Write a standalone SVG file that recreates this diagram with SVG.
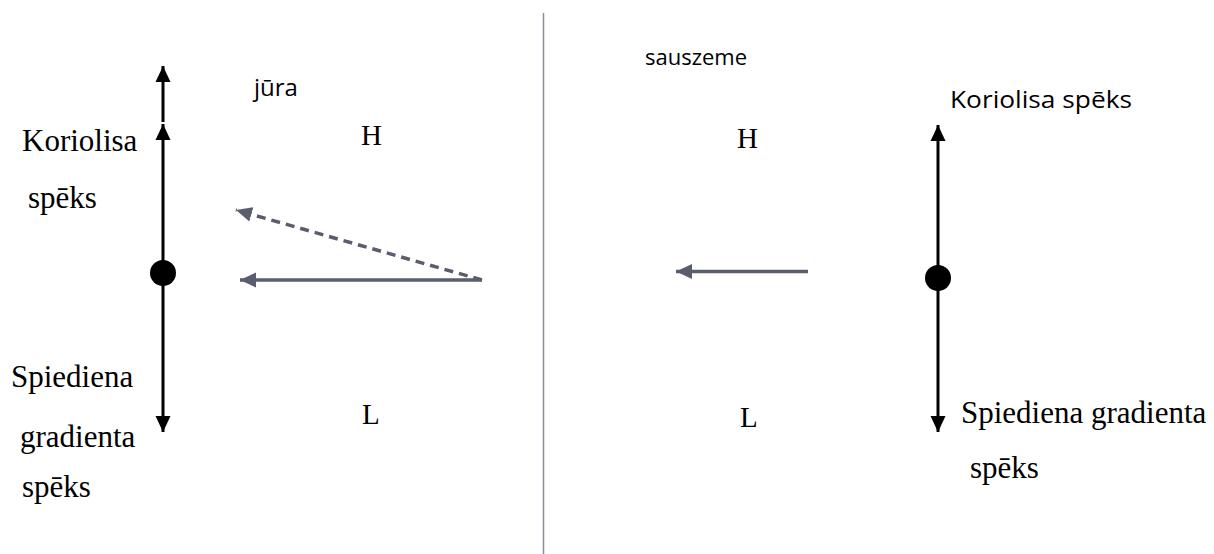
<svg xmlns="http://www.w3.org/2000/svg" width="1214" height="554" viewBox="0 0 1214 554">
<style>
.serif{font-family:"Liberation Serif","Times New Roman",serif;font-size:31px;fill:#000}
.serif.hl{font-size:29px}
.sans{font-family:"Open Sans","Liberation Sans",sans-serif;font-size:22px;fill:#000}
.sans.big{font-size:24px}
.blk{stroke:#000;stroke-width:3;fill:none}
.gry{stroke:#5a5d6c;stroke-width:3.5;fill:none}
</style>
<defs>
<marker id="ab" markerUnits="userSpaceOnUse" markerWidth="16" markerHeight="16" viewBox="0 0 16 16" refX="16" refY="8" orient="auto"><path d="M0,0.5 L16,8 L0,15.5 Z" fill="#000"/></marker>
<marker id="ag" markerUnits="userSpaceOnUse" markerWidth="16" markerHeight="16" viewBox="0 0 16 16" refX="16" refY="8" orient="auto"><path d="M0,0.5 L16,8 L0,15.5 Z" fill="#5a5d6c"/></marker>
</defs>
<rect width="1214" height="554" fill="#fff"/>
<g id="divider"><line x1="543.5" y1="13" x2="543.5" y2="554" stroke="#8a8c98" stroke-width="1.5"/></g>
<g id="connectors">
<path class="blk" d="M163,122 V66" marker-end="url(#ab)"/>
<path class="blk" d="M163,273 V124" marker-end="url(#ab)"/>
<path class="blk" d="M163,273 V432" marker-end="url(#ab)"/>
<path class="blk" d="M938,278 V125" marker-end="url(#ab)"/>
<path class="blk" d="M938,278 V432" marker-end="url(#ab)"/>
<path class="gry" d="M482,280 L240,280" marker-end="url(#ag)"/>
<path class="gry" d="M482,280 L236,210" stroke-dasharray="9,6" stroke-width="3" marker-end="url(#ag)"/>
<path class="gry" d="M808,271.5 L676,271.5" marker-end="url(#ag)"/>
</g>
<g id="left-point"><circle cx="163" cy="273" r="13" fill="#000"/></g>
<g id="right-point"><circle cx="938" cy="278" r="13" fill="#000"/></g>
<g id="labels-left">
<text class="sans big" x="254" y="96">jūra</text>
<text class="serif" x="22" y="151">Koriolisa</text>
<text class="serif" x="28" y="208">spēks</text>
<text class="serif" x="11" y="387">Spiediena</text>
<text class="serif" x="20" y="447">gradienta</text>
<text class="serif" x="22" y="497">spēks</text>
<text class="serif hl" x="361" y="145">H</text>
<text class="serif hl" x="362" y="424">L</text>
</g>
<g id="labels-right">
<text class="sans" x="645" y="65">sauszeme</text>
<text class="sans big" x="950" y="108" textLength="182" lengthAdjust="spacingAndGlyphs">Koriolisa spēks</text>
<text class="serif hl" x="737" y="148">H</text>
<text class="serif hl" x="740" y="427">L</text>
<text class="serif" x="961" y="423">Spiediena gradienta</text>
<text class="serif" x="970" y="478">spēks</text>
</g>
</svg>
